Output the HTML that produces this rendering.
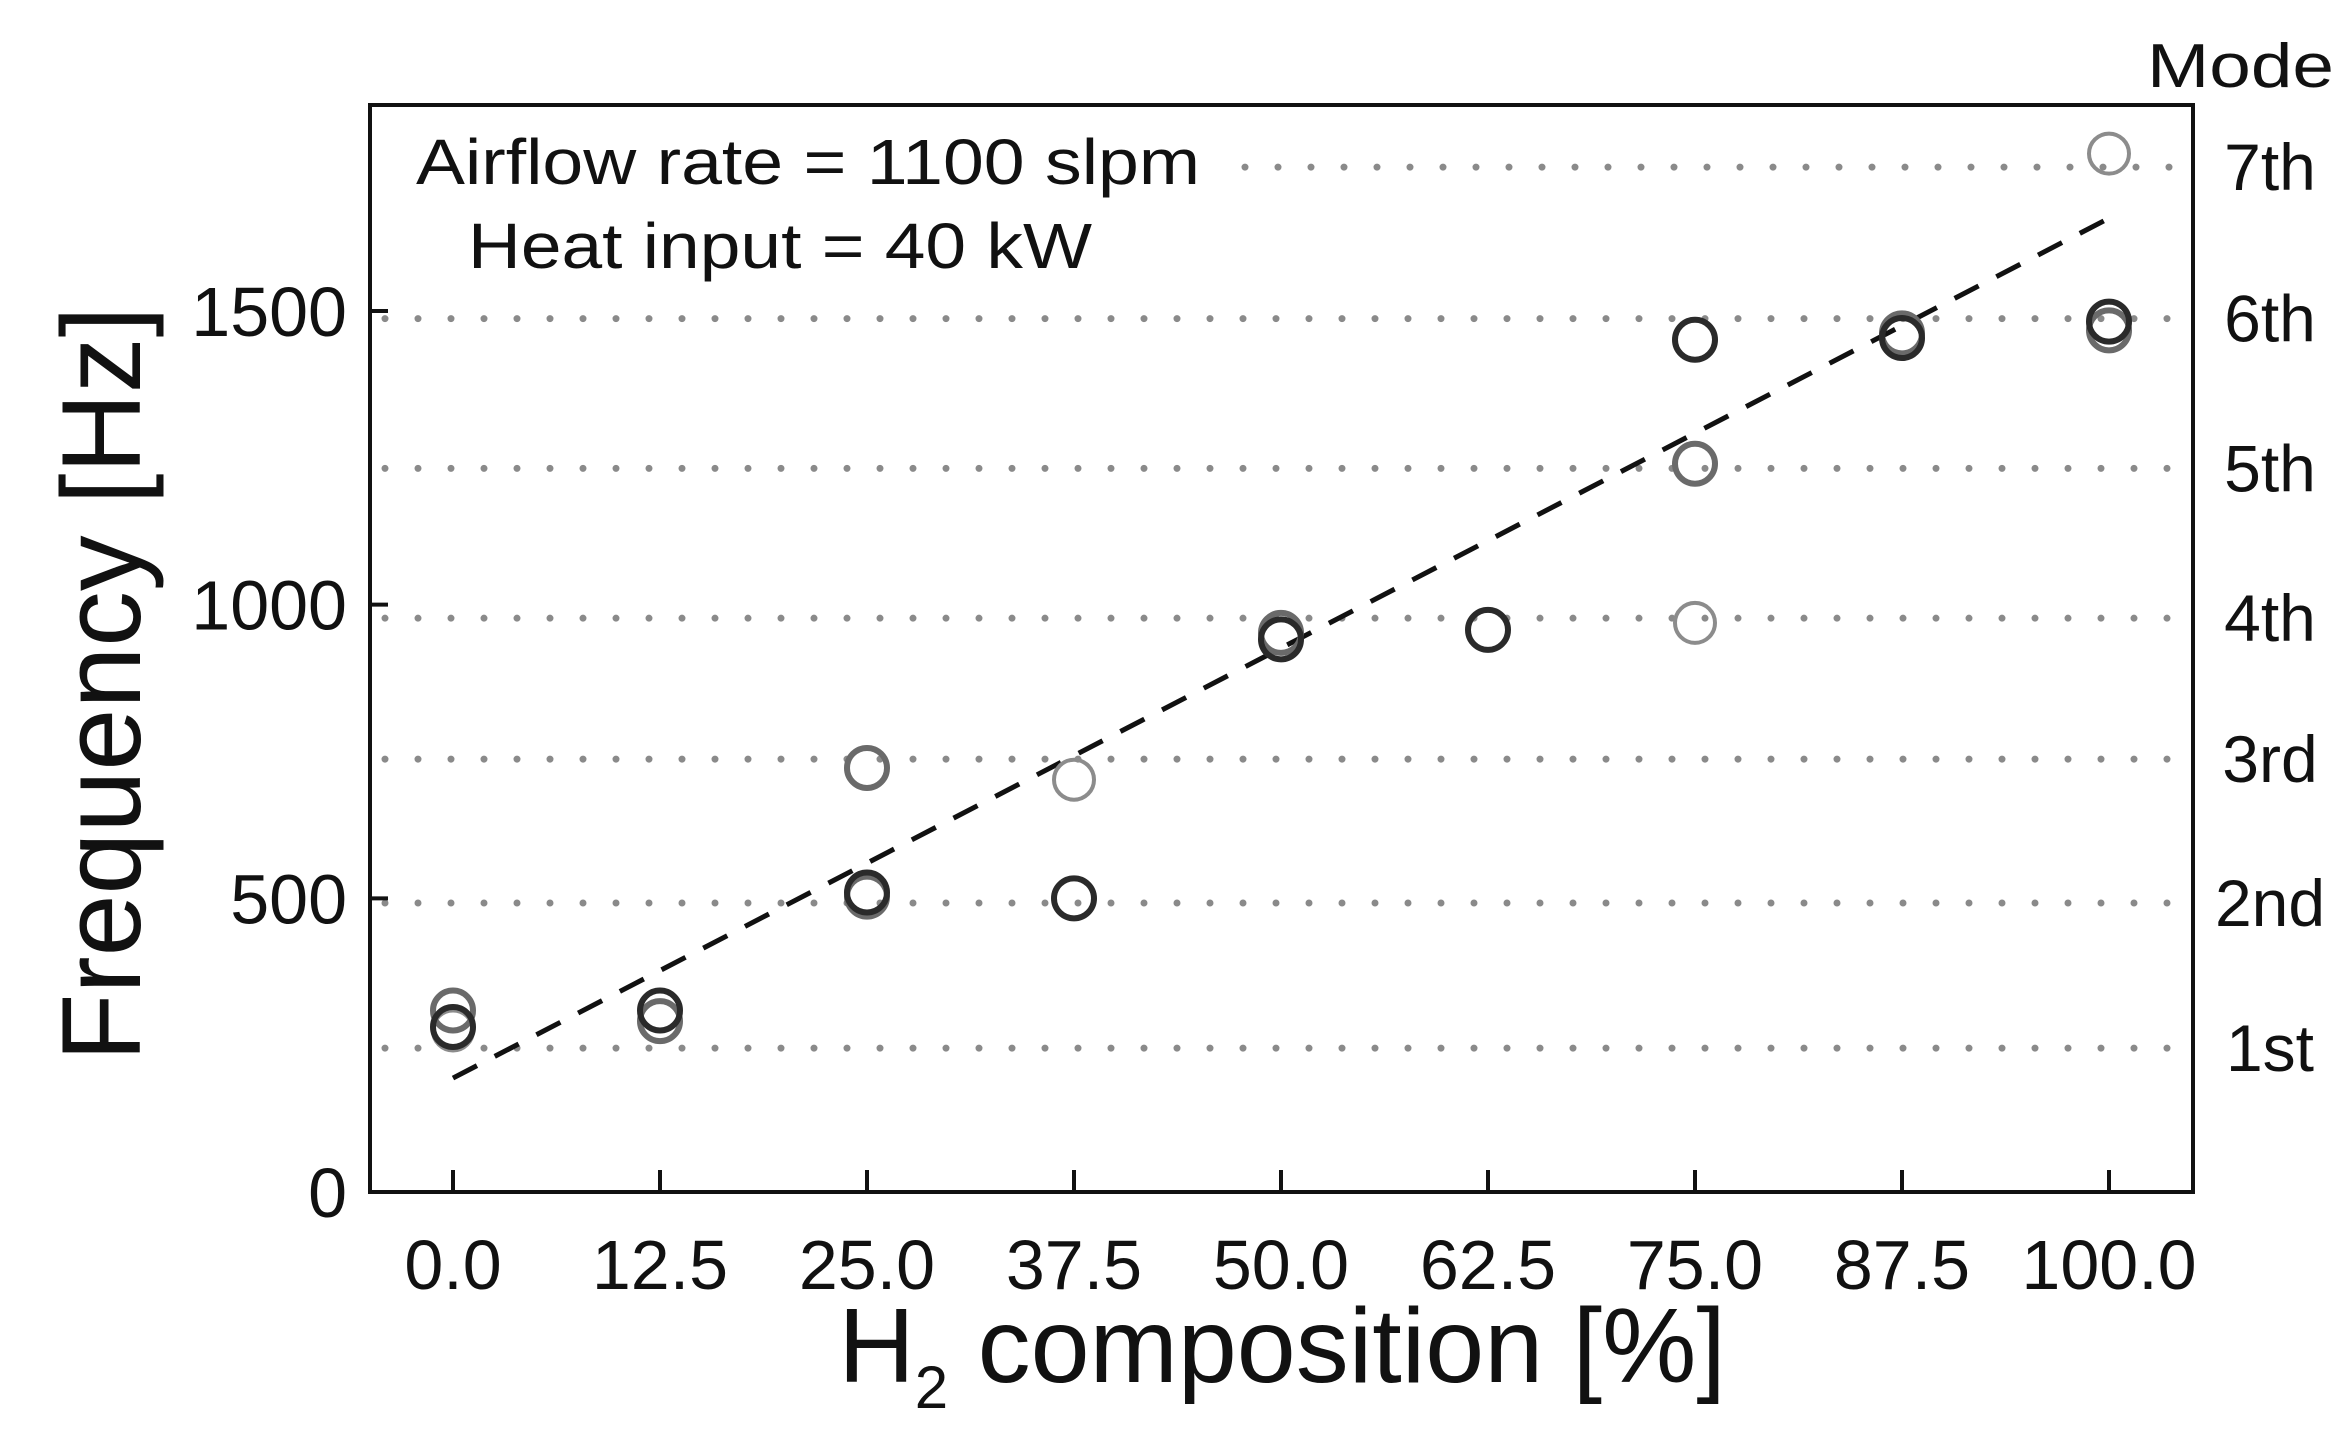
<!DOCTYPE html>
<html><head><meta charset="utf-8"><style>
html,body{margin:0;padding:0;background:#fff;}
svg{display:block;font-family:"Liberation Sans",Arial,sans-serif;}
</style></head><body>
<svg id="chart" width="2346" height="1446" viewBox="0 0 2346 1446" xmlns="http://www.w3.org/2000/svg">
<rect x="0" y="0" width="2346" height="1446" fill="#fff"/>
<g id="grid"></g>
<g id="fit"></g>
<g id="pts"></g>
<rect x="370" y="105" width="1823" height="1087" fill="none" stroke="#111" stroke-width="4"/>
<g id="axes"></g>
<text x="416" y="184" font-size="64" textLength="784" lengthAdjust="spacingAndGlyphs" fill="#111">Airflow rate = 1100 slpm</text>
<text x="468" y="268" font-size="64" textLength="624" lengthAdjust="spacingAndGlyphs" fill="#111">Heat input = 40 kW</text>
<text x="2147" y="87" font-size="62" textLength="187" lengthAdjust="spacingAndGlyphs" fill="#111">Mode</text>
<text transform="translate(140,684) rotate(-90)" text-anchor="middle" font-size="112" textLength="755" lengthAdjust="spacingAndGlyphs" fill="#111">Frequency [Hz]</text>
<text x="1282" y="1382" text-anchor="middle" font-size="106" fill="#111">H<tspan font-size="60" dy="26">2</tspan><tspan dy="-26"> composition [%]</tspan></text>
</svg>
<script>
const xTicks = [0, 12.5, 25, 37.5, 50, 62.5, 75, 87.5, 100];
const xTickLabels = ["0.0","12.5","25.0","37.5","50.0","62.5","75.0","87.5","100.0"];
const yTicks = [0, 500, 1000, 1500];
const modeLabels = ["1st","2nd","3rd","4th","5th","6th","7th"];
const modeFreqs = [245, 492, 737, 977, 1232, 1487, 1745];
const darkX = [0, 12.5, 25, 37.5, 50, 62.5, 75, 87.5, 100];
const darkY = [281, 309, 510, 500, 941, 957, 1451, 1454, 1482];
const grayX = [0, 12.5, 25, 25, 50, 75, 87.5, 100];
const grayY = [309, 291, 722, 503, 952, 1240, 1462, 1467];
const lightX = [0, 37.5, 75, 100];
const lightY = [275, 702, 969, 1768];
const fitX = [0, 100];
const fitY = [194, 1658];

const X0=453, X1=2109, Y0=1192, Y1=311;
const sx = v => X0 + (v/100)*(X1-X0);
const sy = v => Y0 - (v/1500)*(Y0-Y1);
const NS="http://www.w3.org/2000/svg";
function mk(parent, tag, attrs){const e=document.createElementNS(NS,tag);for(const k in attrs)e.setAttribute(k,attrs[k]);document.getElementById(parent).appendChild(e);return e;}

modeFreqs.forEach((f,i)=>{
  const xs = i===6 ? 1245 : 385;
  const l = mk('grid','line',{x1:xs,x2:2180,y1:sy(f),y2:sy(f),stroke:'#8a8a8a','stroke-width':7,'stroke-dasharray':'0 33','stroke-linecap':'round'});
  
  
  const t = mk('axes','text',{x:2270,y:sy(f)+23,'text-anchor':'middle','font-size':66,fill:'#111'});
  t.textContent = modeLabels[i];
  
  
});
xTicks.forEach((v,i)=>{
  const l = mk('axes','line',{x1:sx(v),x2:sx(v),y1:1192,y2:1170,stroke:'#111','stroke-width':4});
  
  
  const t = mk('axes','text',{x:sx(v),y:1289,'text-anchor':'middle','font-size':70,fill:'#111'});
  t.textContent = xTickLabels[i];
  
  
});
yTicks.forEach(v=>{
  const l = mk('axes','line',{x1:370,x2:388,y1:sy(v),y2:sy(v),stroke:'#111','stroke-width':4});
  
  
  const t = mk('axes','text',{x:347,y:sy(v)+25,'text-anchor':'end','font-size':70,fill:'#111'});
  t.textContent = String(v);
  
  
});
const fl = mk('fit','line',{x1:sx(fitX[0]),y1:sy(fitY[0]),x2:sx(fitX[1]),y2:sy(fitY[1]),stroke:'#111','stroke-width':5,'stroke-dasharray':'27 20'});



function pts(xs, ys, col, w, name){
  xs.forEach((x,i)=>{
    const c = mk('pts','circle',{cx:sx(x),cy:sy(ys[i]),r:20,fill:'none',stroke:col,'stroke-width':w});
    
    
  });
}
pts(lightX, lightY, '#8c8c8c', 4, 'light-point');
pts(grayX, grayY, '#6a6a6a', 6, 'gray-point');
pts(darkX, darkY, '#2a2a2a', 6, 'dark-point');
</script>
</body></html>
